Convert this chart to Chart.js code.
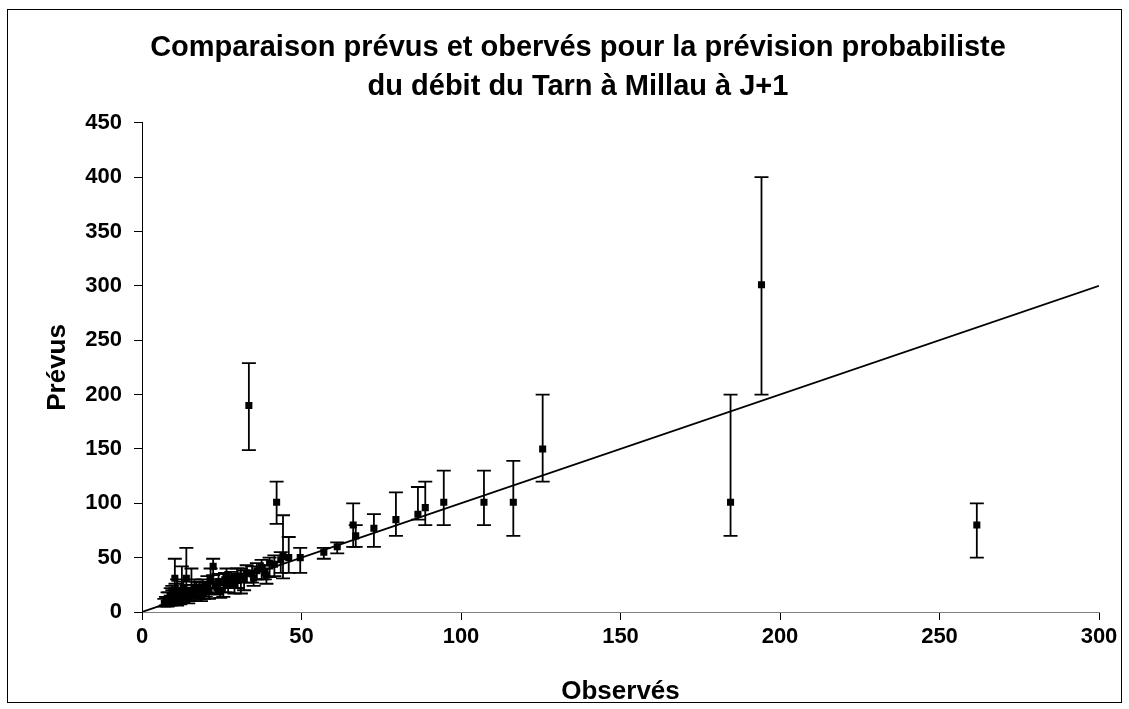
<!DOCTYPE html>
<html>
<head>
<meta charset="utf-8">
<script src="https://cdn.jsdelivr.net/npm/chart.js@4/dist/chart.umd.min.js"></script>
<style>
  html, body { margin: 0; padding: 0; background: #fff; }
  canvas { display: block; }
</style>
</head>
<body>
<canvas id="c" width="1129" height="709"></canvas>
<script>
// ---- Data ----
const titleLines = ["Comparaison prévus et obervés pour la prévision probabiliste", "du débit du Tarn à Millau à J+1"];
const xTitle = "Observés";
const yTitle = "Prévus";
const xRange = [0, 300];
const yRange = [0, 450];
const tickStep = 50;

const observes = [194.2, 184.5, 261.7, 125.6, 116.4, 107.2, 94.6, 88.8, 86.5, 79.6, 72.7, 67.0, 66.2, 61.2, 57.0, 49.6, 46.0, 44.2, 42.2, 33.5,
  43.5, 41.5, 40.0, 39.0, 37.5, 36.0, 34.5, 32.8, 31.0, 29.8, 28.0, 26.5, 25.5, 24.0, 23.0, 22.3, 21.5, 20.5, 20.0, 19.0,
  18.0, 17.0, 16.0, 15.5, 15.0, 14.0, 13.9, 13.0, 12.5, 12.0, 11.5, 11.0, 10.5, 10.3, 10.0, 9.5, 9.0, 8.5, 8.0, 7.5,
  7.0, 9.0, 11.0, 13.0, 17.0, 19.5, 23.5, 27.0, 30.0, 35.0, 38.5,
  8.0, 9.5, 10.5, 12.0, 14.5, 16.5, 18.5, 21.0, 24.5, 26.0, 29.0, 32.0];
const prevus = [301, 101, 80, 150, 101, 101, 101, 96, 90, 85, 77, 70, 80, 60, 55, 50, 50, 51, 101, 190,
  48, 44, 45, 34, 41, 38, 35, 36, 33, 33, 30, 32, 27, 28, 24, 42, 30, 25, 21, 23,
  20, 22, 18, 20, 16, 17, 31, 14, 18, 15, 12, 20, 14, 31, 11, 13, 10, 12, 9, 10,
  8, 15, 10, 22, 15, 18, 22, 25, 29, 31, 36,
  12, 16, 18, 12, 14, 22, 16, 19, 20, 28, 26, 30];
const bornesBasses = [200, 70, 50, 120, 70, 80, 80, 80, 85, 70, 60, 60, 60, 54, 49, 36, 36, 31, 81, 149,
  36, 33, 32, 26, 30, 30, 27, 27, 17, 22, 22, 25, 14, 22, 17, 34, 22, 18, 14, 17,
  12, 15, 12, 14, 10, 11, 20, 9, 10, 9, 8, 12, 9, 20, 7, 8, 6, 7, 5, 6,
  5, 10, 6, 14, 10, 12, 16, 18, 22, 24, 30,
  6, 9, 10, 7, 8, 14, 10, 12, 13, 18, 17, 20];
const bornesHautes = [400, 200, 100, 200, 139, 130, 130, 120, 115, 110, 90, 80, 100, 64, 59, 59, 69, 89, 120, 229,
  55, 52, 50, 40, 48, 45, 42, 43, 40, 40, 37, 40, 35, 35, 30, 49, 40, 33, 28, 30,
  27, 28, 25, 40, 22, 25, 59, 20, 42, 22, 18, 30, 22, 49, 16, 20, 15, 18, 13, 14,
  12, 22, 14, 28, 20, 24, 30, 32, 35, 38, 43,
  18, 24, 26, 18, 20, 30, 22, 26, 28, 36, 34, 38];
const diagX = [0, 300];
const diagY = [0, 300];

// ---- Build library structures ----
const FONT = "'Liberation Sans', Arial, sans-serif";
const points = observes.map((x, i) => ({ x: x, y: prevus[i] }));
const diagPoints = diagX.map((x, i) => ({ x: x, y: diagY[i] }));

const errorBars = {
  id: 'errorBars',
  beforeDatasetsDraw(chart) {
    const { ctx, scales: { x, y } } = chart;
    ctx.save();
    ctx.strokeStyle = '#000';
    ctx.lineWidth = 1.8;
    const cap = 7;
    observes.forEach((ox, i) => {
      const px = x.getPixelForValue(ox);
      const pLo = y.getPixelForValue(bornesBasses[i]);
      const pHi = y.getPixelForValue(bornesHautes[i]);
      ctx.beginPath();
      ctx.moveTo(px, pLo); ctx.lineTo(px, pHi);
      ctx.moveTo(px - cap, pLo); ctx.lineTo(px + cap, pLo);
      ctx.moveTo(px - cap, pHi); ctx.lineTo(px + cap, pHi);
      ctx.stroke();
    });
    ctx.restore();
  }
};

const frame = {
  id: 'frame',
  beforeDraw(chart) {
    const ctx = chart.ctx;
    ctx.save();
    ctx.fillStyle = '#fff';
    ctx.fillRect(0, 0, chart.width, chart.height);
    ctx.restore();
  },
  afterDraw(chart) {
    const ctx = chart.ctx;
    ctx.save();
    ctx.strokeStyle = '#000';
    ctx.lineWidth = 1;
    ctx.strokeRect(7.5, 9.5, 1114, 693);
    ctx.restore();
  }
};

const tickFont = { family: FONT, size: 22, weight: 'bold' };
const titleFont = { family: FONT, size: 26, weight: 'bold' };

new Chart(document.getElementById('c'), {
  type: 'scatter',
  data: {
    datasets: [
      {
        type: 'line',
        data: diagPoints,
        borderColor: '#000',
        borderWidth: 1.8,
        pointRadius: 0,
        fill: false,
        order: 2
      },
      {
        type: 'scatter',
        data: points,
        pointStyle: 'rect',
        pointRadius: 5,
        backgroundColor: '#000',
        borderColor: '#000',
        borderWidth: 0,
        order: 1
      }
    ]
  },
  options: {
    responsive: false,
    animation: false,
    devicePixelRatio: 1,
    layout: { padding: { left: 27, right: 0, top: 10, bottom: 2 } },
    plugins: {
      legend: { display: false },
      tooltip: { enabled: false },
      title: {
        display: true,
        text: titleLines,
        color: '#000',
        font: { family: FONT, size: 29, weight: 'bold', lineHeight: 1.359 },
        padding: { top: 18, bottom: 16 }
      }
    },
    scales: {
      x: {
        type: 'linear',
        min: xRange[0], max: xRange[1],
        ticks: { stepSize: tickStep, color: '#000', font: tickFont, padding: 4, maxRotation: 0 },
        grid: { display: true, drawOnChartArea: false, drawTicks: true, tickLength: 8, color: '#000', tickWidth: 1 },
        border: { display: true, color: '#808080', width: 1 },
        title: { display: true, text: xTitle, color: '#000', font: titleFont, padding: { top: 0, bottom: 0 } },
        afterFit: s => { s.height = 95; }
      },
      y: {
        type: 'linear',
        min: yRange[0], max: yRange[1],
        ticks: { stepSize: tickStep, color: '#000', font: tickFont, padding: 12 },
        grid: { display: true, drawOnChartArea: false, drawTicks: true, tickLength: 8, color: '#000', tickWidth: 1 },
        border: { display: true, color: '#000', width: 1 },
        title: { display: true, text: yTitle, color: '#000', font: titleFont, padding: { top: 15, bottom: 0 } },
        afterFit: s => { s.width = 115; }
      },
      yR: {
        type: 'linear',
        position: 'right',
        display: true,
        grid: { display: false },
        border: { display: false },
        ticks: { display: false },
        afterFit: s => { s.width = 30; }
      }
    }
  },
  plugins: [errorBars, frame]
});
</script>
</body>
</html>
